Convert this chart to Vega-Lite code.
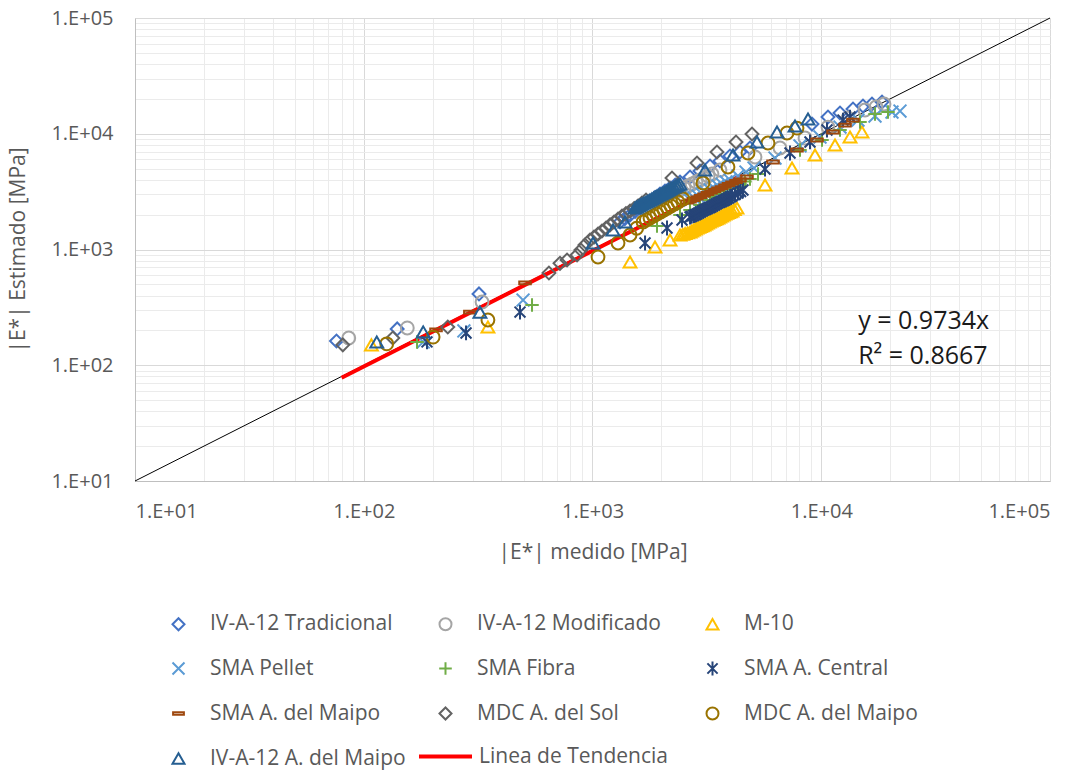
{
"$schema": "https://vega.github.io/schema/vega-lite/v6.json",
"width": 915, "height": 463,
"autosize": {"type": "none"},
"padding": {"left": 135, "top": 18, "right": 40, "bottom": 291},
"background": "white",
"config": {
 "view": {"stroke": null},
 "axis": {"labelFont": "Open Sans", "labelFontSize": 20, "labelColor": "#595959", "titleFont": "Open Sans", "titleFontSize": 21, "titleFontWeight": "normal", "titleColor": "#595959", "ticks": false, "domainColor": "#BFBFBF", "gridColor": "#D9D9D9"},
 "legend": {"labelFont": "Open Sans", "labelFontSize": 21, "labelColor": "#595959", "padding": 0}
},
"layer": [
 {
  "data": {"values": [{"x": 10, "y": 10}, {"x": 100000, "y": 100000}]},
  "mark": {"type": "line", "color": "#000000", "strokeWidth": 1},
  "encoding": {
   "x": {"field": "x", "type": "quantitative", "scale": {"type": "log", "domain": [10, 100000], "nice": false},
    "axis": {"orient": "top", "values": [20,30,40,50,60,70,80,90,200,300,400,500,600,700,800,900,2000,3000,4000,5000,6000,7000,8000,9000,20000,30000,40000,50000,60000,70000,80000,90000], "grid": true, "gridColor": "#EBEBEB", "labels": false, "domain": false, "ticks": false, "title": null}},
   "y": {"field": "y", "type": "quantitative", "scale": {"type": "log", "domain": [10, 100000], "nice": false},
    "axis": {"orient": "right", "values": [20,30,40,50,60,70,80,90,200,300,400,500,600,700,800,900,2000,3000,4000,5000,6000,7000,8000,9000,20000,30000,40000,50000,60000,70000,80000,90000], "grid": true, "gridColor": "#EBEBEB", "labels": false, "domain": false, "ticks": false, "title": null}}
  }
 },
 {
  "data": {"values": [{"x": 80, "y": 77.9, "s": "Linea de Tendencia"}, {"x": 4500, "y": 4380, "s": "Linea de Tendencia"}]},
  "mark": {"type": "line", "strokeWidth": 4},
  "encoding": {
   "x": {"field": "x", "type": "quantitative", "scale": {"type": "log"}, "axis": null},
   "y": {"field": "y", "type": "quantitative", "scale": {"type": "log"}, "axis": null},
   "color": {"field": "s", "type": "nominal", "scale": {"domain": ["Linea de Tendencia"], "range": ["#FF0000"]},
    "legend": {"title": null, "orient": "none", "legendX": 282, "legendY": 710, "symbolType": "stroke", "symbolSize": 2809, "symbolStrokeWidth": 4, "labelOffset": 5, "labelLimit": 400}}
  }
 },
 {
  "data": {"values": [
{"serie":"IV-A-12 Tradicional","x":76,"y":162},{"serie":"IV-A-12 Tradicional","x":140,"y":206},{"serie":"IV-A-12 Tradicional","x":319,"y":413},{"serie":"IV-A-12 Tradicional","x":1319,"y":1728},{"serie":"IV-A-12 Tradicional","x":1385,"y":1850},{"serie":"IV-A-12 Tradicional","x":1459,"y":1987},{"serie":"IV-A-12 Tradicional","x":1535,"y":2130},{"serie":"IV-A-12 Tradicional","x":1613,"y":2283},{"serie":"IV-A-12 Tradicional","x":1700,"y":2450},{"serie":"IV-A-12 Tradicional","x":1784,"y":2624},{"serie":"IV-A-12 Tradicional","x":1875,"y":2810},{"serie":"IV-A-12 Tradicional","x":1973,"y":3016},{"serie":"IV-A-12 Tradicional","x":2075,"y":3200},{"serie":"IV-A-12 Tradicional","x":2182,"y":3398},{"serie":"IV-A-12 Tradicional","x":2300,"y":3610},{"serie":"IV-A-12 Tradicional","x":2413,"y":3829},{"serie":"IV-A-12 Tradicional","x":2669,"y":4229},{"serie":"IV-A-12 Tradicional","x":2951,"y":4766},{"serie":"IV-A-12 Tradicional","x":3264,"y":5264},{"serie":"IV-A-12 Tradicional","x":3608,"y":5815},{"serie":"IV-A-12 Tradicional","x":3991,"y":6424},{"serie":"IV-A-12 Tradicional","x":4413,"y":6955},{"serie":"IV-A-12 Tradicional","x":4881,"y":7536},{"serie":"IV-A-12 Tradicional","x":9111,"y":12127},{"serie":"IV-A-12 Tradicional","x":10702,"y":13944},{"serie":"IV-A-12 Tradicional","x":12078,"y":15102},{"serie":"IV-A-12 Tradicional","x":13766,"y":16357},{"serie":"IV-A-12 Tradicional","x":15222,"y":17366},{"serie":"IV-A-12 Tradicional","x":16667,"y":18072},{"serie":"IV-A-12 Tradicional","x":18434,"y":18808},
{"serie":"IV-A-12 Modificado","x":86,"y":172},{"serie":"IV-A-12 Modificado","x":155,"y":210},{"serie":"IV-A-12 Modificado","x":329,"y":352},{"serie":"IV-A-12 Modificado","x":2300,"y":3130},{"serie":"IV-A-12 Modificado","x":2413,"y":3266},{"serie":"IV-A-12 Modificado","x":2515,"y":3400},{"serie":"IV-A-12 Modificado","x":2616,"y":3536},{"serie":"IV-A-12 Modificado","x":2725,"y":3680},{"serie":"IV-A-12 Modificado","x":2835,"y":3829},{"serie":"IV-A-12 Modificado","x":2950,"y":3990},{"serie":"IV-A-12 Modificado","x":3072,"y":4146},{"serie":"IV-A-12 Modificado","x":3200,"y":4320},{"serie":"IV-A-12 Modificado","x":3330,"y":4491},{"serie":"IV-A-12 Modificado","x":3608,"y":4862},{"serie":"IV-A-12 Modificado","x":5134,"y":6297},{"serie":"IV-A-12 Modificado","x":6601,"y":7536},{"serie":"IV-A-12 Modificado","x":8491,"y":9188},{"serie":"IV-A-12 Modificado","x":10702,"y":11423},{"serie":"IV-A-12 Modificado","x":13090,"y":13668},{"serie":"IV-A-12 Modificado","x":15533,"y":16034},{"serie":"IV-A-12 Modificado","x":17352,"y":17023},{"serie":"IV-A-12 Modificado","x":18808,"y":18072},
{"serie":"M-10","x":108,"y":150},{"serie":"M-10","x":349,"y":214},{"serie":"M-10","x":1459,"y":780},{"serie":"M-10","x":1876,"y":1051},{"serie":"M-10","x":2182,"y":1208},{"serie":"M-10","x":2413,"y":1334},{"serie":"M-10","x":2480,"y":1355},{"serie":"M-10","x":2540,"y":1375},{"serie":"M-10","x":2605,"y":1395},{"serie":"M-10","x":2669,"y":1416},{"serie":"M-10","x":2715,"y":1445},{"serie":"M-10","x":2765,"y":1475},{"serie":"M-10","x":2815,"y":1505},{"serie":"M-10","x":2863,"y":1534},{"serie":"M-10","x":2915,"y":1557},{"serie":"M-10","x":2965,"y":1580},{"serie":"M-10","x":3020,"y":1605},{"serie":"M-10","x":3072,"y":1628},{"serie":"M-10","x":3125,"y":1660},{"serie":"M-10","x":3180,"y":1695},{"serie":"M-10","x":3240,"y":1730},{"serie":"M-10","x":3296,"y":1763},{"serie":"M-10","x":3355,"y":1790},{"serie":"M-10","x":3415,"y":1815},{"serie":"M-10","x":3475,"y":1843},{"serie":"M-10","x":3536,"y":1871},{"serie":"M-10","x":3600,"y":1910},{"serie":"M-10","x":3665,"y":1950},{"serie":"M-10","x":3730,"y":1988},{"serie":"M-10","x":3795,"y":2026},{"serie":"M-10","x":3860,"y":2058},{"serie":"M-10","x":3930,"y":2090},{"serie":"M-10","x":4000,"y":2120},{"serie":"M-10","x":4072,"y":2151},{"serie":"M-10","x":4170,"y":2215},{"serie":"M-10","x":4282,"y":2283},{"serie":"M-10","x":5677,"y":3607},{"serie":"M-10","x":7450,"y":5058},{"serie":"M-10","x":9391,"y":6553},{"serie":"M-10","x":11485,"y":7998},{"serie":"M-10","x":13357,"y":9374},{"serie":"M-10","x":15070,"y":10353},
{"serie":"SMA Pellet","x":182,"y":159},{"serie":"SMA Pellet","x":274,"y":198},{"serie":"SMA Pellet","x":497,"y":366},{"serie":"SMA Pellet","x":2669,"y":2677},{"serie":"SMA Pellet","x":2780,"y":2790},{"serie":"SMA Pellet","x":2892,"y":2898},{"serie":"SMA Pellet","x":3010,"y":3020},{"serie":"SMA Pellet","x":3134,"y":3138},{"serie":"SMA Pellet","x":3265,"y":3270},{"serie":"SMA Pellet","x":3397,"y":3398},{"serie":"SMA Pellet","x":3535,"y":3540},{"serie":"SMA Pellet","x":3681,"y":3679},{"serie":"SMA Pellet","x":3835,"y":3830},{"serie":"SMA Pellet","x":3991,"y":3984},{"serie":"SMA Pellet","x":4325,"y":4315},{"serie":"SMA Pellet","x":4688,"y":4671},{"serie":"SMA Pellet","x":5082,"y":5058},{"serie":"SMA Pellet","x":6278,"y":6172},{"serie":"SMA Pellet","x":8074,"y":7840},{"serie":"SMA Pellet","x":9875,"y":9374},{"serie":"SMA Pellet","x":12078,"y":11423},{"serie":"SMA Pellet","x":14476,"y":13134},{"serie":"SMA Pellet","x":17179,"y":14225},{"serie":"SMA Pellet","x":20384,"y":15407},{"serie":"SMA Pellet","x":22093,"y":15717},
{"serie":"SMA Fibra","x":171,"y":159},{"serie":"SMA Fibra","x":544,"y":332},{"serie":"SMA Fibra","x":1914,"y":1596},{"serie":"SMA Fibra","x":2413,"y":1987},{"serie":"SMA Fibra","x":2669,"y":2194},{"serie":"SMA Fibra","x":2951,"y":2424},{"serie":"SMA Fibra","x":3264,"y":2677},{"serie":"SMA Fibra","x":3430,"y":2840},{"serie":"SMA Fibra","x":3608,"y":3016},{"serie":"SMA Fibra","x":3795,"y":3170},{"serie":"SMA Fibra","x":3991,"y":3331},{"serie":"SMA Fibra","x":4200,"y":3500},{"serie":"SMA Fibra","x":4413,"y":3679},{"serie":"SMA Fibra","x":4640,"y":3865},{"serie":"SMA Fibra","x":4881,"y":4064},{"serie":"SMA Fibra","x":5291,"y":4491},{"serie":"SMA Fibra","x":8074,"y":7237},{"serie":"SMA Fibra","x":10076,"y":8831},{"serie":"SMA Fibra","x":12078,"y":10775},{"serie":"SMA Fibra","x":14770,"y":12620},{"serie":"SMA Fibra","x":17179,"y":14804},{"serie":"SMA Fibra","x":19579,"y":15407},
{"serie":"SMA A. Central","x":189,"y":159},{"serie":"SMA A. Central","x":280,"y":190},{"serie":"SMA A. Central","x":482,"y":288},{"serie":"SMA A. Central","x":1697,"y":1138},{"serie":"SMA A. Central","x":2117,"y":1534},{"serie":"SMA A. Central","x":2462,"y":1798},{"serie":"SMA A. Central","x":2669,"y":1909},{"serie":"SMA A. Central","x":2710,"y":1935},{"serie":"SMA A. Central","x":2765,"y":1965},{"serie":"SMA A. Central","x":2815,"y":1995},{"serie":"SMA A. Central","x":2863,"y":2026},{"serie":"SMA A. Central","x":2915,"y":2068},{"serie":"SMA A. Central","x":2965,"y":2110},{"serie":"SMA A. Central","x":3020,"y":2152},{"serie":"SMA A. Central","x":3072,"y":2194},{"serie":"SMA A. Central","x":3125,"y":2227},{"serie":"SMA A. Central","x":3180,"y":2260},{"serie":"SMA A. Central","x":3240,"y":2294},{"serie":"SMA A. Central","x":3296,"y":2329},{"serie":"SMA A. Central","x":3355,"y":2377},{"serie":"SMA A. Central","x":3415,"y":2425},{"serie":"SMA A. Central","x":3475,"y":2473},{"serie":"SMA A. Central","x":3536,"y":2522},{"serie":"SMA A. Central","x":3600,"y":2561},{"serie":"SMA A. Central","x":3665,"y":2600},{"serie":"SMA A. Central","x":3730,"y":2638},{"serie":"SMA A. Central","x":3795,"y":2677},{"serie":"SMA A. Central","x":3860,"y":2730},{"serie":"SMA A. Central","x":3930,"y":2785},{"serie":"SMA A. Central","x":4000,"y":2840},{"serie":"SMA A. Central","x":4072,"y":2898},{"serie":"SMA A. Central","x":4200,"y":2985},{"serie":"SMA A. Central","x":4325,"y":3076},{"serie":"SMA A. Central","x":4440,"y":3170},{"serie":"SMA A. Central","x":4548,"y":3266},{"serie":"SMA A. Central","x":5677,"y":4960},{"serie":"SMA A. Central","x":7302,"y":6818},{"serie":"SMA A. Central","x":8929,"y":8489},{"serie":"SMA A. Central","x":10595,"y":10775},{"serie":"SMA A. Central","x":12448,"y":13134},{"serie":"SMA A. Central","x":13357,"y":13944},
{"serie":"SMA A. del Maipo","x":207,"y":202},{"serie":"SMA A. del Maipo","x":291,"y":288},{"serie":"SMA A. del Maipo","x":507,"y":514},{"serie":"SMA A. del Maipo","x":2589,"y":2573},{"serie":"SMA A. del Maipo","x":2669,"y":2624},{"serie":"SMA A. del Maipo","x":2765,"y":2705},{"serie":"SMA A. del Maipo","x":2863,"y":2785},{"serie":"SMA A. del Maipo","x":2965,"y":2870},{"serie":"SMA A. del Maipo","x":3072,"y":2956},{"serie":"SMA A. del Maipo","x":3180,"y":3045},{"serie":"SMA A. del Maipo","x":3296,"y":3138},{"serie":"SMA A. del Maipo","x":3415,"y":3235},{"serie":"SMA A. del Maipo","x":3536,"y":3331},{"serie":"SMA A. del Maipo","x":3665,"y":3430},{"serie":"SMA A. del Maipo","x":3795,"y":3536},{"serie":"SMA A. del Maipo","x":3930,"y":3645},{"serie":"SMA A. del Maipo","x":4072,"y":3753},{"serie":"SMA A. del Maipo","x":4240,"y":3865},{"serie":"SMA A. del Maipo","x":4413,"y":3984},{"serie":"SMA A. del Maipo","x":4735,"y":4229},{"serie":"SMA A. del Maipo","x":6153,"y":5700},{"serie":"SMA A. del Maipo","x":7834,"y":7237},{"serie":"SMA A. del Maipo","x":9582,"y":8831},{"serie":"SMA A. del Maipo","x":11257,"y":10353},{"serie":"SMA A. del Maipo","x":12701,"y":11888},{"serie":"SMA A. del Maipo","x":13766,"y":13134},
{"serie":"MDC A. del Sol","x":81,"y":150},{"serie":"MDC A. del Sol","x":134,"y":172},{"serie":"MDC A. del Sol","x":233,"y":214},{"serie":"MDC A. del Sol","x":645,"y":627},{"serie":"MDC A. del Sol","x":721,"y":760},{"serie":"MDC A. del Sol","x":774,"y":811},{"serie":"MDC A. del Sol","x":856,"y":896},{"serie":"MDC A. del Sol","x":890,"y":990},{"serie":"MDC A. del Sol","x":927,"y":1094},{"serie":"MDC A. del Sol","x":975,"y":1208},{"serie":"MDC A. del Sol","x":1015,"y":1280},{"serie":"MDC A. del Sol","x":1057,"y":1361},{"serie":"MDC A. del Sol","x":1100,"y":1445},{"serie":"MDC A. del Sol","x":1146,"y":1534},{"serie":"MDC A. del Sol","x":1193,"y":1630},{"serie":"MDC A. del Sol","x":1242,"y":1728},{"serie":"MDC A. del Sol","x":1293,"y":1835},{"serie":"MDC A. del Sol","x":1346,"y":1947},{"serie":"MDC A. del Sol","x":1400,"y":2045},{"serie":"MDC A. del Sol","x":1459,"y":2151},{"serie":"MDC A. del Sol","x":1520,"y":2260},{"serie":"MDC A. del Sol","x":1581,"y":2376},{"serie":"MDC A. del Sol","x":1645,"y":2520},{"serie":"MDC A. del Sol","x":1714,"y":2677},{"serie":"MDC A. del Sol","x":2226,"y":4146},{"serie":"MDC A. del Sol","x":2863,"y":5587},{"serie":"MDC A. del Sol","x":3501,"y":6955},{"serie":"MDC A. del Sol","x":4240,"y":8489},{"serie":"MDC A. del Sol","x":4981,"y":9949},
{"serie":"MDC A. del Maipo","x":126,"y":153},{"serie":"MDC A. del Maipo","x":201,"y":175},{"serie":"MDC A. del Maipo","x":349,"y":246},{"serie":"MDC A. del Maipo","x":1057,"y":861},{"serie":"MDC A. del Maipo","x":1293,"y":1138},{"serie":"MDC A. del Maipo","x":1459,"y":1334},{"serie":"MDC A. del Maipo","x":1560,"y":1525},{"serie":"MDC A. del Maipo","x":1663,"y":1728},{"serie":"MDC A. del Maipo","x":1720,"y":1800},{"serie":"MDC A. del Maipo","x":1784,"y":1871},{"serie":"MDC A. del Maipo","x":1850,"y":1950},{"serie":"MDC A. del Maipo","x":1914,"y":2026},{"serie":"MDC A. del Maipo","x":1985,"y":2110},{"serie":"MDC A. del Maipo","x":2054,"y":2194},{"serie":"MDC A. del Maipo","x":2130,"y":2285},{"serie":"MDC A. del Maipo","x":2204,"y":2376},{"serie":"MDC A. del Maipo","x":2285,"y":2475},{"serie":"MDC A. del Maipo","x":2365,"y":2573},{"serie":"MDC A. del Maipo","x":2487,"y":2731},{"serie":"MDC A. del Maipo","x":3041,"y":3753},{"serie":"MDC A. del Maipo","x":3911,"y":5160},{"serie":"MDC A. del Maipo","x":4783,"y":6818},{"serie":"MDC A. del Maipo","x":5851,"y":8321},{"serie":"MDC A. del Maipo","x":7086,"y":10149},{"serie":"MDC A. del Maipo","x":7834,"y":11197},
{"serie":"IV-A-12 A. del Maipo","x":114,"y":159},{"serie":"IV-A-12 A. del Maipo","x":182,"y":194},{"serie":"IV-A-12 A. del Maipo","x":322,"y":288},{"serie":"IV-A-12 A. del Maipo","x":1005,"y":1138},{"serie":"IV-A-12 A. del Maipo","x":1229,"y":1474},{"serie":"IV-A-12 A. del Maipo","x":1387,"y":1728},{"serie":"IV-A-12 A. del Maipo","x":1534,"y":2283},{"serie":"IV-A-12 A. del Maipo","x":1560,"y":2330},{"serie":"IV-A-12 A. del Maipo","x":1590,"y":2375},{"serie":"IV-A-12 A. del Maipo","x":1618,"y":2423},{"serie":"IV-A-12 A. del Maipo","x":1646,"y":2472},{"serie":"IV-A-12 A. del Maipo","x":1680,"y":2523},{"serie":"IV-A-12 A. del Maipo","x":1715,"y":2575},{"serie":"IV-A-12 A. del Maipo","x":1750,"y":2626},{"serie":"IV-A-12 A. del Maipo","x":1784,"y":2677},{"serie":"IV-A-12 A. del Maipo","x":1817,"y":2730},{"serie":"IV-A-12 A. del Maipo","x":1850,"y":2785},{"serie":"IV-A-12 A. del Maipo","x":1882,"y":2841},{"serie":"IV-A-12 A. del Maipo","x":1914,"y":2898},{"serie":"IV-A-12 A. del Maipo","x":1955,"y":2956},{"serie":"IV-A-12 A. del Maipo","x":1995,"y":3015},{"serie":"IV-A-12 A. del Maipo","x":2035,"y":3076},{"serie":"IV-A-12 A. del Maipo","x":2075,"y":3138},{"serie":"IV-A-12 A. del Maipo","x":2112,"y":3201},{"serie":"IV-A-12 A. del Maipo","x":2150,"y":3265},{"serie":"IV-A-12 A. del Maipo","x":2188,"y":3331},{"serie":"IV-A-12 A. del Maipo","x":2226,"y":3398},{"serie":"IV-A-12 A. del Maipo","x":2273,"y":3466},{"serie":"IV-A-12 A. del Maipo","x":2320,"y":3535},{"serie":"IV-A-12 A. del Maipo","x":2366,"y":3607},{"serie":"IV-A-12 A. del Maipo","x":2413,"y":3679},{"serie":"IV-A-12 A. del Maipo","x":3103,"y":4862},{"serie":"IV-A-12 A. del Maipo","x":4114,"y":6553},{"serie":"IV-A-12 A. del Maipo","x":5238,"y":8489},{"serie":"IV-A-12 A. del Maipo","x":6406,"y":10353},{"serie":"IV-A-12 A. del Maipo","x":7678,"y":11653},{"serie":"IV-A-12 A. del Maipo","x":8752,"y":13399}
  ]},
  "mark": {"type": "point", "filled": false, "strokeWidth": 2, "size": 165, "opacity": 1},
  "encoding": {
   "x": {"field": "x", "type": "quantitative", "scale": {"type": "log"},
    "axis": {"orient": "bottom", "values": [10, 100, 1000, 10000, 100000], "labelExpr": "'1.E+0' + round(log(datum.value)/LN10)", "grid": true, "gridColor": "#D9D9D9", "title": "|E*| medido [MPa]", "labelPadding": 20, "titlePadding": 20, "domain": true}},
   "y": {"field": "y", "type": "quantitative", "scale": {"type": "log"},
    "axis": {"orient": "left", "values": [10, 100, 1000, 10000, 100000], "labelExpr": "'1.E+0' + round(log(datum.value)/LN10)", "grid": true, "gridColor": "#D9D9D9", "title": "|E*| Estimado  [MPa]", "labelPadding": 22, "titlePadding": 22, "domain": true}},
   "color": {"field": "serie", "type": "nominal",
    "scale": {"domain": ["IV-A-12 Tradicional","IV-A-12 Modificado","M-10","SMA Pellet","SMA Fibra","SMA A. Central","SMA A. del Maipo","MDC A. del Sol","MDC A. del Maipo","IV-A-12 A. del Maipo"],
     "range": ["#4472C4","#A5A5A5","#FFC000","#5B9BD5","#70AD47","#264478","#9E480E","#636363","#997300","#255E91"]},
    "legend": {"title": null, "orient": "none", "direction": "horizontal", "legendX": 33, "legendY": 595, "columns": 3, "gridAlign": "all", "columnPadding": 29, "rowPadding": 22, "symbolStrokeWidth": 2, "symbolSize": 144, "labelOffset": 21, "labelLimit": 400}},
   "shape": {"field": "serie", "type": "nominal",
    "scale": {"domain": ["IV-A-12 Tradicional","IV-A-12 Modificado","M-10","SMA Pellet","SMA Fibra","SMA A. Central","SMA A. del Maipo","MDC A. del Sol","MDC A. del Maipo","IV-A-12 A. del Maipo"],
     "range": ["diamond","circle","triangle-up","M-1,-1L1,1M-1,1L1,-1","M-1.05,0L1.05,0M0,-1.05L0,1.05","M-0.85,-0.85L0.85,0.85M-0.85,0.85L0.85,-0.85M0,-1.15L0,1.15","M-0.9,-0.22L0.9,-0.22L0.9,0.22L-0.9,0.22Z","diamond","circle","triangle-up"]},
    "legend": {"title": null, "orient": "none", "direction": "horizontal", "legendX": 33, "legendY": 595, "columns": 3, "gridAlign": "all", "columnPadding": 29, "rowPadding": 22, "symbolStrokeWidth": 2, "symbolSize": 144, "labelOffset": 21, "labelLimit": 400}}
  }
 },
 {
  "data": {"values": [{"x": 14500, "y": 241, "t": "y = 0.9734x"}, {"x": 14500, "y": 120, "t": "R² = 0.8667"}]},
  "mark": {"type": "text", "align": "left", "baseline": "middle", "font": "Open Sans", "fontSize": 25, "color": "#1A1A1A"},
  "encoding": {
   "x": {"field": "x", "type": "quantitative", "scale": {"type": "log"}, "axis": null},
   "y": {"field": "y", "type": "quantitative", "scale": {"type": "log"}, "axis": null},
   "text": {"field": "t"}
  }
 }
],
"resolve": {"scale": {"color": "independent", "shape": "independent"}}
}
